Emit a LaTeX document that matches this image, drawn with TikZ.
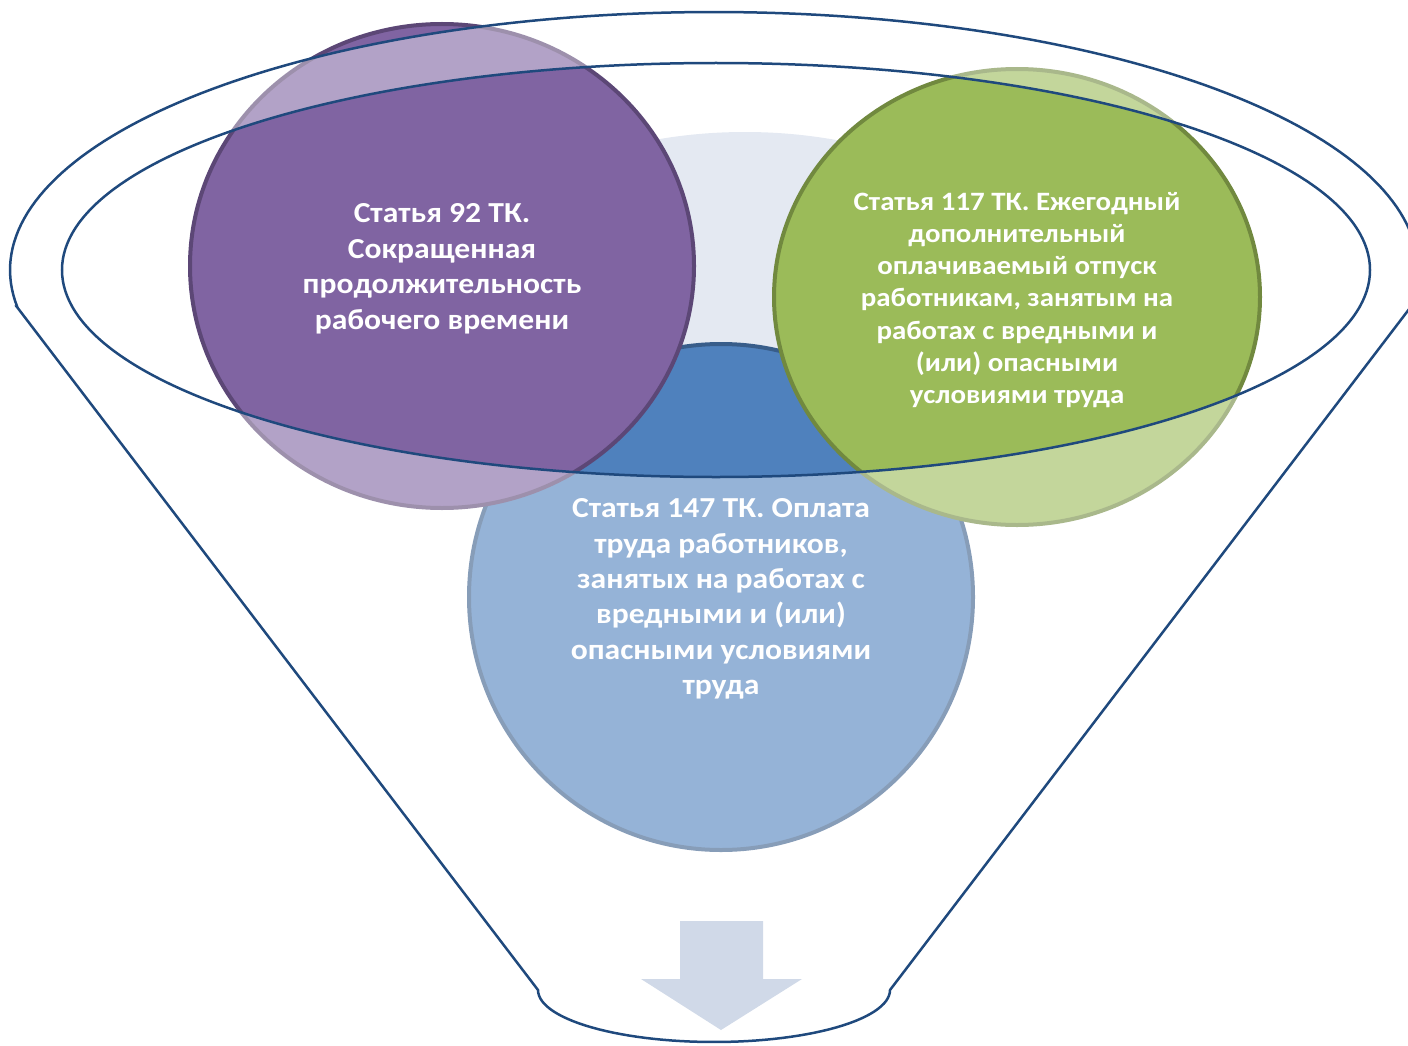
\documentclass[tikz,border=0pt]{standalone}
\usepackage{fontspec}
\setmainfont{Carlito}[FakeStretch=1.09]
\definecolor{funnelc}{RGB}{31,73,125}
\definecolor{bgl}{RGB}{228,233,242}
\definecolor{arrowc}{RGB}{208,217,232}
\definecolor{pfill}{RGB}{128,100,162}
\definecolor{pdraw}{RGB}{92,71,118}
\definecolor{gfill}{RGB}{155,187,89}
\definecolor{gdraw}{RGB}{113,137,63}
\definecolor{bfill}{RGB}{79,129,189}
\definecolor{bdraw}{RGB}{56,93,138}
\tikzset{
  lbl/.style={text=white, align=center, inner sep=0pt},
  bubble/.style={line width=4},
  funnelline/.style={draw=funnelc, line width=2.5},
}
\newcommand\myfunnelpath{(17,307) -- plot[domain=171.75:368.25,samples=150] ({714+704*cos(\x)},{270+258*sin(\x)}) -- (890,990) -- plot[domain=0:180,samples=60] ({714+176*cos(\x)},{990+52*sin(\x)}) -- cycle}
\newcommand\myinnerellipse{(716,270) ellipse [x radius=654, y radius=207]}
\begin{document}
\begin{tikzpicture}[x=1pt,y=-1pt]
\useasboundingbox (0,0) rectangle (1408,1046);
% light background shape
\begin{scope}
  \clip \myinnerellipse;
  \fill[bgl] (745,380) ellipse [x radius=360, y radius=248];
\end{scope}
% circles
\path[bubble, fill=bfill, draw=bdraw] (721,597) ellipse [x radius=252, y radius=253];
\path[bubble, fill=pfill, draw=pdraw] (442,266) ellipse [x radius=252, y radius=242];
\path[bubble, fill=gfill, draw=gdraw] (1017,297) ellipse [x radius=243, y radius=228];
% glass of the funnel
\fill[white, fill opacity=0.4, even odd rule] \myfunnelpath \myinnerellipse;
% arrow
\fill[arrowc] (680,921) -- (763,921) -- (763,979) -- (802,979) -- (721,1030) -- (641,979) -- (680,979) -- cycle;
% funnel outlines
\draw[funnelline] \myfunnelpath;
\draw[funnelline] \myinnerellipse;
% labels
\node[lbl, font=\bfseries\fontsize{29}{35.5}\selectfont] (t92) at (442,269)
  {Статья 92 ТК.\\Сокращенная\\продолжительность\\рабочего времени};
\node[lbl, font=\bfseries\fontsize{26.5}{32.2}\selectfont] (t117) at (1017,300)
  {Статья 117 ТК. Ежегодный\\дополнительный\\оплачиваемый отпуск\\работникам, занятым на\\работах с вредными и\\(или) опасными\\условиями труда};
\node[lbl, font=\bfseries\fontsize{29}{35.4}\selectfont] (t147) at (721,599)
  {Статья 147 ТК. Оплата\\труда работников,\\занятых на работах с\\вредными и (или)\\опасными условиями\\труда};
\end{tikzpicture}
\end{document}
